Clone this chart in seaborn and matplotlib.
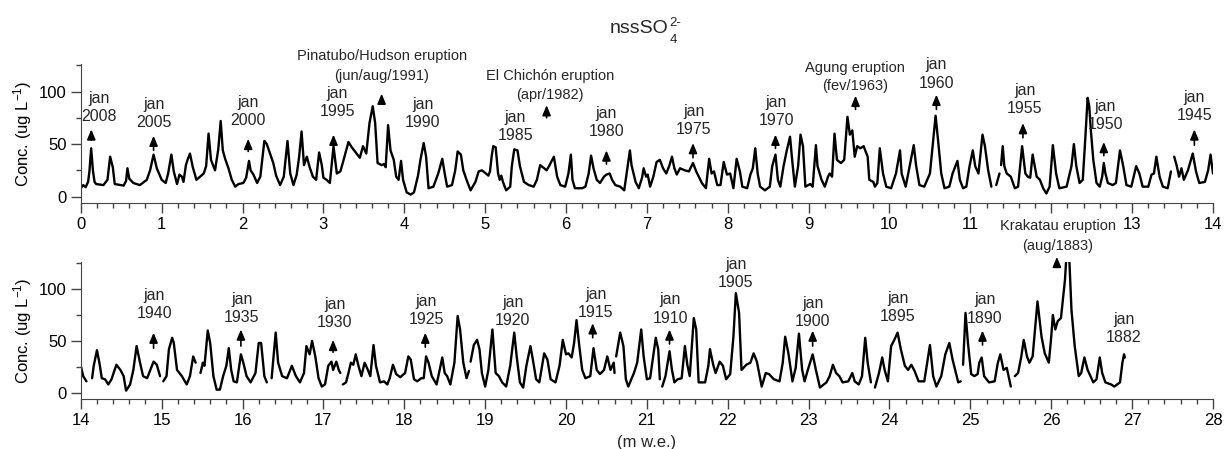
import numpy as np
import pandas as pd
import matplotlib
matplotlib.use('Agg')
import matplotlib.pyplot as plt
import seaborn as sns
from matplotlib.ticker import MultipleLocator, FuncFormatter

# depth (m w.e.) / nssSO4 concentration (ug/L), GAP = break in the record
GAP = None
top_trace = [
    (0.00, 8), (0.03, 11), (0.06, 9), (0.09, 14), (0.107, 24), (0.128, 46), (0.15, 25), (0.17, 14), (0.19, 12),
    (0.28, 11), (0.33, 16), (0.363, 38), (0.396, 28), (0.42, 12), (0.53, 10.5), (0.56, 15), (0.577, 27), (0.6, 17),
    (0.65, 13), (0.73, 11), (0.816, 16), (0.857, 25), (0.9, 40), (0.94, 27), (1.0, 16), (1.05, 13), (1.08, 22),
    (1.12, 40), (1.15, 24), (1.19, 12), (1.22, 21), (1.25, 19), (1.27, 14), (1.3, 30), (1.32, 35), (1.35, 41),
    (1.385, 28), (1.43, 16), (1.52, 22), (1.55, 29), (1.58, 60), (1.61, 35), (1.66, 25), (1.70, 45), (1.73, 72),
    (1.756, 44), (1.785, 36), (1.826, 27), (1.867, 16), (1.91, 9.5), (1.95, 12), (2.01, 13), (2.045, 18), (2.08, 34),
    (2.1, 25), (2.135, 21), (2.18, 13), (2.22, 19), (2.27, 53), (2.3, 50), (2.34, 41), (2.38, 32), (2.415, 20),
    (2.465, 11), (2.51, 19), (2.556, 53), (2.59, 22), (2.63, 11), (2.67, 21), (2.7, 38), (2.73, 62), (2.76, 30),
    (2.795, 38), (2.83, 28), (2.87, 19), (2.91, 16), (2.947, 42), (2.98, 30), (3.0, 18), (3.04, 16), (3.08, 13),
    (3.125, 48), (3.166, 22), (3.21, 24), (3.25, 35), (3.31, 52), (3.35, 47), (3.41, 41), (3.45, 37), (3.49, 48),
    (3.53, 41), (3.57, 70), (3.61, 86), (3.64, 70), (3.67, 32), (3.72, 30), (3.75, 31), (3.77, 28), (3.8, 68),
    (3.83, 44), (3.87, 35), (3.9, 19), (3.93, 16), (3.96, 34), (3.985, 16), (4.03, 4), (4.08, 2), (4.12, 4),
    (4.17, 20), (4.2, 35), (4.24, 51), (4.27, 38), (4.3, 8), (4.36, 9.5), (4.42, 22), (4.47, 36), (4.5, 22),
    (4.53, 9.5), (4.59, 11), (4.63, 25), (4.66, 43), (4.7, 40), (4.73, 25), (4.77, 16), (4.82, 6), (4.88, 14),
    (4.92, 24), (4.96, 25), (5.01, 22), (5.04, 20), (5.06, 24), (5.08, 38), (5.1, 48), (5.13, 47), (5.16, 22),
    (5.18, 16), (5.2, 20), (5.22, 14), (5.26, 6), (5.31, 9.5), (5.33, 29), (5.36, 45), (5.4, 44), (5.43, 29),
    (5.48, 14), (5.54, 11), (5.6, 9.5), (5.64, 16), (5.68, 30), (5.73, 27), (5.76, 25), (5.79, 29), (5.85, 38),
    (5.89, 19), (5.93, 11), (5.99, 9.5), (6.03, 22), (6.06, 40), (6.08, 16), (6.11, 8), (6.2, 8), (6.24, 9.5),
    (6.28, 22), (6.31, 39), (6.34, 27), (6.38, 16), (6.42, 13), (6.47, 19), (6.5, 21), (6.54, 22), (6.57, 16),
    (6.61, 11), (6.67, 9.5), (6.72, 6), (6.75, 22), (6.79, 44), (6.81, 30), (6.86, 14), (6.9, 8), (6.94, 18),
    (6.96, 27), (6.99, 19), (7.01, 21), (7.04, 9.5), (7.08, 19), (7.12, 33), (7.16, 35), (7.2, 27), (7.24, 22),
    (7.28, 30), (7.31, 38), (7.34, 27), (7.37, 21), (7.41, 27), (7.47, 25), (7.52, 24), (7.57, 32), (7.61, 24),
    (7.68, 13), (7.73, 8), (7.77, 36), (7.8, 22), (7.83, 24), (7.87, 11), (7.91, 11), (7.95, 33), (7.99, 21),
    (8.03, 22), (8.07, 8), (8.11, 36), (8.15, 24), (8.18, 9.5), (8.24, 8), (8.28, 21), (8.31, 27), (8.34, 46),
    (8.37, 22), (8.4, 9.5), (8.46, 6), (8.52, 9.5), (8.55, 29), (8.59, 40), (8.62, 16), (8.65, 9.5), (8.69, 29),
    (8.73, 44), (8.77, 57), (8.8, 32), (8.83, 9.5), (8.87, 29), (8.9, 59), (8.93, 48), (8.96, 9.5), (9.02, 12),
    (9.05, 9.5), (9.09, 49), (9.11, 29), (9.16, 16), (9.2, 9.5), (9.24, 19), (9.26, 22), (9.29, 19), (9.32, 60),
    (9.35, 35), (9.4, 32), (9.44, 35), (9.48, 76), (9.51, 59), (9.54, 63), (9.57, 38), (9.6, 48), (9.64, 46),
    (9.68, 48), (9.73, 38), (9.75, 16), (9.8, 14), (9.82, 9.5), (9.85, 13), (9.88, 46), (9.92, 22), (9.96, 9.5),
    (10.02, 8), (10.08, 22), (10.13, 44), (10.15, 22), (10.2, 9.5), (10.25, 29), (10.3, 49), (10.33, 29),
    (10.37, 11), (10.43, 9.5), (10.5, 22), (10.54, 54), (10.57, 77), (10.6, 54), (10.64, 22), (10.68, 8),
    (10.74, 9.5), (10.78, 22), (10.84, 34), (10.87, 16), (10.91, 8), (10.95, 9.5), (10.99, 29), (11.03, 44),
    (11.06, 29), (11.1, 22), (11.15, 59), (11.18, 48), (11.22, 25), (11.26, 9.5), GAP,
    (11.32, 11), (11.36, 22), GAP,
    (11.38, 30), (11.4, 48), (11.42, 29), (11.45, 22), (11.5, 19), (11.55, 8), (11.59, 9.5), (11.64, 48),
    (11.68, 22), (11.71, 19), (11.74, 18), (11.77, 40), (11.82, 19), (11.86, 16), (11.9, 8), (11.94, 3),
    (11.98, 9.5), (12.02, 49), (12.06, 22), (12.1, 8), (12.19, 9.5), (12.25, 29), (12.28, 50), (12.31, 29),
    (12.35, 13), (12.39, 16), (12.42, 54), (12.45, 94), (12.47, 86), (12.49, 63), (12.52, 35), (12.56, 13),
    (12.6, 9.5), (12.63, 19), (12.65, 32), (12.67, 22), (12.7, 13), (12.76, 11), (12.8, 13), (12.85, 44),
    (12.89, 29), (12.93, 11), (12.99, 9.5), (13.05, 29), (13.09, 22), (13.13, 9.5), (13.2, 9.5), (13.24, 21),
    (13.27, 22), (13.3, 38), (13.34, 19), (13.38, 9.5), (13.44, 8), (13.48, 24), GAP,
    (13.52, 38), (13.55, 30), (13.58, 19), (13.61, 27), (13.64, 16), (13.69, 25), (13.75, 41), (13.79, 24),
    (13.83, 13), (13.9, 14), (13.94, 25), (13.97, 40), (14.0, 22),
]
bottom_trace = [
    (14.0, 26), (14.03, 16), (14.07, 11), GAP,
    (14.14, 14), (14.16, 26), (14.2, 41), (14.23, 29), (14.26, 14), (14.3, 13), (14.34, 8), (14.38, 13),
    (14.44, 27), (14.49, 22), (14.53, 16), (14.56, 2), (14.61, 8), (14.65, 22), (14.69, 45), (14.73, 30),
    (14.77, 16), (14.82, 14), (14.86, 22), (14.9, 30), (14.94, 27), (14.98, 16), GAP,
    (15.02, 11), (15.06, 16), (15.09, 42), (15.13, 53), (15.15, 48), (15.19, 22), (15.25, 16), (15.31, 8),
    (15.35, 16), (15.39, 35), (15.42, 29), GAP,
    (15.48, 19), (15.51, 29), (15.53, 26), (15.57, 60), (15.6, 48), (15.64, 16), (15.68, 3), (15.72, 3),
    (15.76, 16), (15.8, 26), (15.83, 43), (15.86, 22), (15.89, 11), (15.93, 10), (15.98, 37), (16.01, 29),
    (16.05, 16), (16.1, 10), (16.16, 19), (16.2, 48), (16.23, 48), (16.27, 16), (16.3, 10), GAP,
    (16.36, 14), (16.41, 58), (16.44, 29), (16.49, 16), (16.55, 14), (16.61, 26), (16.66, 16), (16.71, 10),
    (16.76, 19), (16.79, 45), (16.83, 37), (16.86, 50), (16.9, 35), (16.94, 14), (16.98, 6), (17.02, 8),
    (17.06, 26), (17.1, 30), (17.12, 22), (17.16, 30), (17.19, 22), (17.21, 19), GAP,
    (17.24, 8), (17.28, 10), (17.31, 19), (17.34, 29), (17.37, 27), (17.4, 37), (17.43, 27), (17.47, 16),
    (17.51, 29), (17.55, 22), (17.58, 16), (17.62, 46), (17.65, 26), (17.7, 10), (17.75, 11), (17.79, 8),
    (17.82, 14), (17.86, 27), (17.9, 18), (17.95, 15), (18.01, 19), (18.05, 35), (18.08, 32), (18.12, 13),
    (18.16, 11), (18.21, 14), (18.24, 14), (18.27, 35), (18.3, 29), (18.34, 16), (18.4, 8), (18.47, 34),
    (18.5, 19), (18.53, 16), (18.57, 8), (18.62, 29), (18.66, 74), (18.69, 61), (18.73, 29), (18.77, 14),
    (18.8, 21), GAP,
    (18.82, 30), (18.86, 46), (18.9, 51), (18.93, 42), (18.96, 19), (19.0, 6), (19.04, 22), (19.09, 61),
    (19.13, 19), (19.17, 16), (19.21, 10), (19.26, 6), (19.31, 26), (19.36, 58), (19.39, 35), (19.43, 10),
    (19.47, 5), (19.51, 26), (19.56, 45), (19.59, 32), (19.63, 13), (19.67, 10), (19.73, 38), (19.77, 32),
    (19.81, 13), (19.87, 10), (19.92, 26), (19.96, 51), (20.0, 37), (20.03, 38), (20.07, 34), (20.1, 48),
    (20.13, 70), (20.16, 48), (20.2, 22), (20.24, 14), (20.3, 16), (20.34, 43), (20.38, 22), (20.42, 18),
    (20.47, 22), (20.51, 35), (20.55, 22), (20.59, 29), (20.6, 19), GAP,
    (20.62, 35), (20.67, 58), (20.71, 45), (20.74, 13), (20.77, 6), (20.84, 19), (20.88, 29), (20.93, 61),
    (20.96, 35), (21.0, 13), (21.04, 14), (21.11, 53), (21.14, 42), (21.16, 13), GAP,
    (21.19, 6), (21.23, 16), (21.28, 40), (21.31, 22), (21.34, 10), (21.38, 13), (21.43, 14), (21.47, 45),
    (21.5, 27), (21.53, 16), (21.58, 72), (21.61, 61), (21.64, 10), (21.72, 10), (21.76, 26), (21.78, 42),
    (21.82, 27), (21.85, 19), (21.9, 30), (21.94, 26), (21.98, 13), (22.03, 18), (22.07, 54), (22.1, 96),
    (22.14, 77), (22.17, 22), (22.23, 27), (22.28, 29), (22.32, 38), (22.36, 30), (22.42, 6), (22.47, 19),
    (22.51, 18), (22.57, 13), (22.64, 11), (22.68, 29), (22.71, 54), (22.75, 38), (22.8, 11), (22.84, 24),
    (22.88, 57), (22.92, 22), (22.95, 11), (22.99, 22), (23.05, 37), (23.09, 22), (23.14, 5), (23.22, 10),
    (23.26, 16), (23.3, 27), (23.34, 19), (23.38, 16), (23.42, 10), (23.49, 11), (23.54, 19), (23.57, 11),
    (23.62, 8), (23.66, 16), (23.7, 53), (23.73, 29), (23.77, 10), GAP,
    (23.82, 5), (23.87, 19), (23.91, 34), (23.94, 22), (23.98, 11), (24.02, 45), (24.06, 51), (24.1, 58),
    (24.14, 42), (24.19, 26), (24.23, 22), (24.27, 27), (24.31, 21), (24.36, 11), (24.43, 11), (24.5, 46),
    (24.54, 16), (24.58, 6), (24.64, 16), (24.69, 37), (24.74, 48), (24.78, 32), (24.85, 10), (24.88, 11), GAP,
    (24.91, 27), (24.94, 77), (24.97, 48), (25.01, 18), (25.05, 16), (25.09, 18), (25.11, 29), (25.14, 34),
    (25.17, 16), (25.23, 10), (25.3, 11), (25.34, 29), (25.37, 37), (25.41, 22), (25.45, 24), (25.5, 6), GAP,
    (25.55, 16), (25.59, 19), (25.63, 35), (25.66, 51), (25.7, 35), (25.73, 29), (25.77, 35), (25.83, 88),
    (25.88, 54), (25.92, 38), (25.97, 29), (26.0, 54), (26.02, 75), (26.05, 61), (26.08, 69), (26.12, 72),
    (26.17, 109), (26.19, 135), (26.22, 135), (26.25, 80), (26.29, 45), (26.34, 16), (26.37, 19), (26.41, 34),
    (26.45, 22), (26.52, 10), (26.56, 13), (26.6, 34), (26.63, 19), (26.67, 10), (26.74, 8), (26.78, 6),
    (26.85, 10), (26.88, 29), (26.9, 37), (26.91, 34),
]

# "jan YYYY" markers: panel, year, text x, year-line y, arrow x, arrow head y, arrow tail y
jan_notes = [
    (0, '2008', 0.23, 78, 0.13, 64, 54), (0, '2005', 0.9, 71.5, 0.9, 58, 44),
    (0, '2000', 2.07, 74, 2.07, 55, 43), (0, '1995', 3.17, 82, 3.125, 59, 52),
    (0, '1990', 4.23, 72, None, None, None), (0, '1985', 5.37, 60, None, None, None),
    (0, '1980', 6.5, 63.5, 6.5, 44, 31), (0, '1975', 7.58, 65.5, 7.57, 51, 37),
    (0, '1970', 8.6, 74, 8.59, 59, 46), (0, '1960', 10.58, 109.5, 10.58, 97, 83),
    (0, '1955', 11.67, 85.7, 11.65, 70, 56), (0, '1950', 12.67, 70, 12.65, 52, 39),
    (0, '1945', 13.77, 78.7, 13.77, 64, 49),
    (1, '1940', 14.91, 78, 14.9, 58, 43), (1, '1935', 15.99, 74, 15.98, 61, 45),
    (1, '1930', 17.14, 69, 17.12, 51, 39), (1, '1925', 18.27, 72, 18.26, 58, 44),
    (1, '1920', 19.34, 71, None, None, None), (1, '1915', 20.37, 79, 20.33, 67, 53),
    (1, '1910', 21.29, 73.5, 21.28, 61, 47), (1, '1905', 22.1, 108, None, None, None),
    (1, '1900', 23.05, 70.5, 23.05, 60, 45), (1, '1895', 24.1, 75, None, None, None),
    (1, '1890', 25.18, 73.5, 25.15, 60, 46), (1, '1882', 26.9, 54.5, None, None, None),
]
# eruptions: panel, name, date, x, name y, date y, arrow x, head y, tail y
eruptions = [
    (0, 'Pinatubo/Hudson eruption', '(jun/aug/1991)', 3.72, 135, 116, 3.72, 98, 88),
    (0, 'El Chichón eruption', '(apr/1982)', 5.8, 116, 98, 5.76, 87, 75),
    (0, 'Agung eruption', '(fev/1963)', 9.57, 124, 107, 9.58, 96, 83),
    (1, 'Krakatau eruption', '(aug/1883)', 26.08, 162, 143, 26.07, 131, 121),
]


def trace_frame(trace):
    rows, seg = [], 0
    for p in trace:
        if p is GAP:
            seg += 1
            continue
        rows.append((p[0], p[1], seg))
    return pd.DataFrame(rows, columns=['depth', 'conc', 'seg'])


sns.set_style('ticks', rc={'axes.edgecolor': '#444444', 'axes.linewidth': 1.2,
                           'xtick.color': '#444444', 'ytick.color': '#444444'})
plt.rcParams['font.family'] = ['Liberation Sans', 'DejaVu Sans']
plt.rcParams['mathtext.fontset'] = 'custom'
plt.rcParams['mathtext.rm'] = 'Liberation Sans'
plt.rcParams['mathtext.default'] = 'regular'

fig = plt.figure(figsize=(12.24, 4.49), dpi=100)
ax1 = fig.add_axes([0.066, 0.548, 0.925, 0.309])
ax2 = fig.add_axes([0.066, 0.1114, 0.925, 0.305])
axes = [ax1, ax2]

for ax, trace, lim in [(ax1, top_trace, (0, 14)), (ax2, bottom_trace, (14, 28))]:
    sns.lineplot(data=trace_frame(trace), x='depth', y='conc', units='seg', estimator=None,
                 sort=False, color='black', lw=1.7, ax=ax, legend=False)
    ax.set_xlim(*lim)
    ax.set_ylim(-6, 126)
    ax.xaxis.set_major_locator(MultipleLocator(1))
    ax.xaxis.set_minor_locator(MultipleLocator(0.2))
    ax.yaxis.set_major_locator(MultipleLocator(50))
    ax.yaxis.set_minor_locator(MultipleLocator(25))
    ax.tick_params(which='major', direction='out', length=7, width=1, labelsize=12,
                   labelcolor='black', pad=3)
    ax.tick_params(which='minor', direction='out', length=3.5, width=1)
    ax.set_xlabel('')
    ax.set_ylabel('Conc. (ug L$^{-1}$)', fontsize=12, color='black')
    ax.yaxis.set_label_coords(-0.041, 0.5)
    sns.despine(ax=ax)

# the Krakatau label sits where the top panel's "12" would be
ax1.xaxis.set_major_formatter(FuncFormatter(lambda v, p: '' if round(v) == 12 else f'{v:.0f}'))

arrow_style = dict(arrowstyle='-|>,head_length=0.6,head_width=0.25', color='black', lw=1.2,
                   shrinkA=0, shrinkB=0)

for panel, year, tx, ty, arx, head, tail in jan_notes:
    ax = axes[panel]
    ax.text(tx, ty, year, ha='center', va='center_baseline', fontsize=11.5, clip_on=False)
    ax.annotate('jan', xy=(tx, ty), xytext=(0, 13), textcoords='offset points',
                ha='center', va='center_baseline', fontsize=11.5, annotation_clip=False)
    if arx is not None:
        ax.annotate('', xy=(arx, head), xytext=(arx, tail), arrowprops=arrow_style,
                    annotation_clip=False)

for panel, name, date, tx, y1, y2, arx, head, tail in eruptions:
    ax = axes[panel]
    ax.text(tx, y1, name, ha='center', va='center_baseline', fontsize=10.5, clip_on=False,
            zorder=10)
    ax.text(tx, y2, date, ha='center', va='center_baseline', fontsize=10.5, clip_on=False,
            zorder=10)
    ax.annotate('', xy=(arx, head), xytext=(arx, tail), arrowprops=arrow_style,
                annotation_clip=False)

ax2.set_xlabel('(m w.e.)', fontsize=12)
ax2.xaxis.set_label_coords(0.5, -0.26)

# title built from pieces so the charge reads "2-" with a plain hyphen
fig.text(0.5458, 0.9265, 'nssSO', ha='right', va='baseline', fontsize=14)
fig.text(0.5475, 0.904, '4', ha='left', va='baseline', fontsize=9.5)
fig.text(0.5466, 0.942, '2-', ha='left', va='baseline', fontsize=9.5)

fig.savefig('out.png', dpi=100, facecolor='white')
